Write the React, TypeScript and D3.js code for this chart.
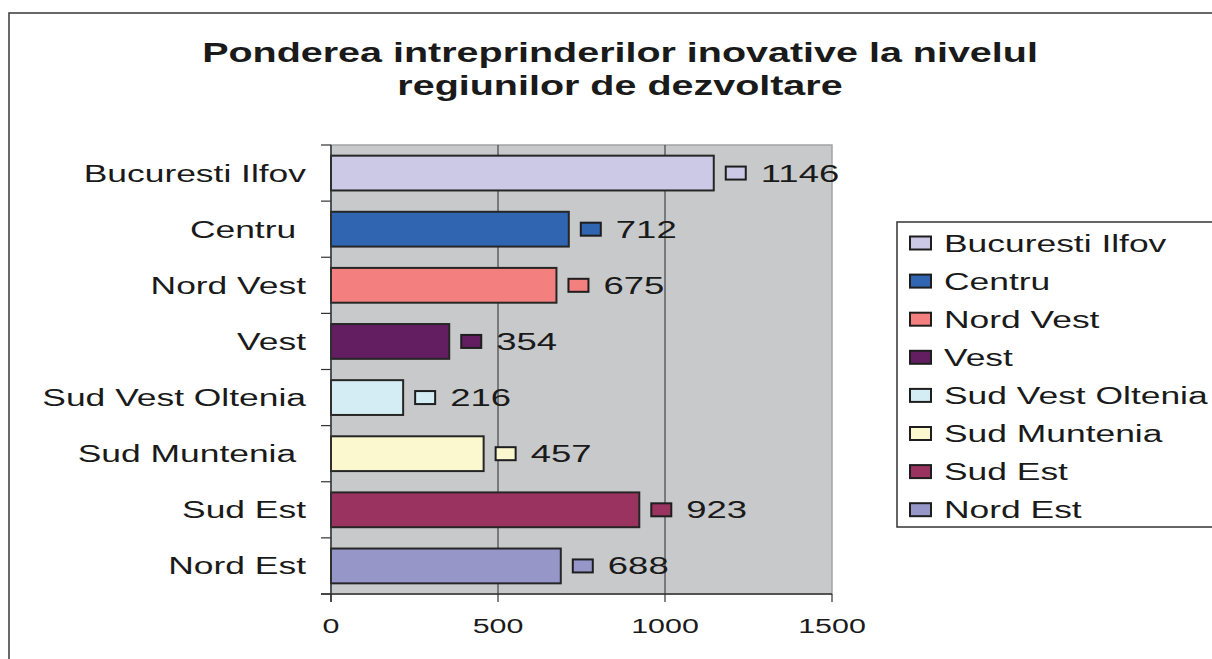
import React from 'react';
import * as d3 from 'd3';

const regions = ['Bucuresti Ilfov', 'Centru', 'Nord Vest', 'Vest', 'Sud Vest Oltenia', 'Sud Muntenia', 'Sud Est', 'Nord Est'];
// labels on the axis carry the trailing blanks of the original sheet
const axisLabels = ['Bucuresti Ilfov', 'Centru ', 'Nord Vest', 'Vest', 'Sud Vest Oltenia', 'Sud Muntenia ', 'Sud Est', 'Nord Est'];
const values = [1146, 712, 675, 354, 216, 457, 923, 688];
const colors = ['#ccc9e6', '#2f65b1', '#f47f7f', '#621e60', '#d4ecf3', '#fbf8cf', '#9a335f', '#9696c9'];
const xTicks = [0, 500, 1000, 1500];
const titleLines = ['Ponderea intreprinderilor inovative la nivelul', 'regiunilor de dezvoltare'];

const W = 1212, H = 659;
const font = '"Liberation Sans", Arial, sans-serif';

// the picture is stretched sideways, so every text gets a horizontal scale
const T = ({x, y, size, sx = 1.445, anchor = 'start', bold = false, children}: any) => (
  <text
    transform={`translate(${x},${y}) scale(${sx},1)`}
    fontFamily={font}
    fontSize={size}
    fontWeight={bold ? 'bold' : 'normal'}
    textAnchor={anchor}
    fill="#1a1a1a"
    style={{whiteSpace: 'pre'}}
  >
    {children}
  </text>
);

export default function App() {
  const x = d3.scaleLinear().domain([0, 1500]).range([331, 832]);
  const y = d3.scaleBand<string>().domain(regions).range([145, 594]).paddingInner(0.38).paddingOuter(0.19);
  const bw = y.bandwidth();
  const step = y.step();
  const top = 145, bottom = 594;

  return (
    <svg width={W} height={H} style={{position: 'absolute', left: 0, top: 0, background: '#fff'}}>
      <rect x={9} y={13} width={W + 20} height={H + 20} fill="#fff" stroke="#444" strokeWidth={1.6} />

      {titleLines.map((t, i) => (
        <T key={i} x={620} y={62 + i * 33} size={28} sx={1.41} anchor="middle" bold>{t}</T>
      ))}

      {/* plot area */}
      <rect x={x(0)} y={top} width={x(1500) - x(0)} height={bottom - top} fill="#c8c9cb" stroke="#a3a3a3" strokeWidth={1.5} />
      {xTicks.slice(1, -1).map(t => (
        <line key={t} x1={x(t)} x2={x(t)} y1={top} y2={bottom} stroke="#2a2a2a" strokeWidth={1} />
      ))}

      {/* bars */}
      {regions.map((r, i) => {
        const yy = y(r)!;
        const cy = yy + bw / 2;
        const end = x(values[i]);
        return (
          <g key={r}>
            <rect x={x(0)} y={yy} width={end - x(0)} height={bw} fill={colors[i]} stroke="#262626" strokeWidth={2} />
            <rect x={end + 12} y={cy - 6.5} width={20} height={13} fill={colors[i]} stroke="#1e1e1e" strokeWidth={2} />
            <T x={end + 47} y={cy + 8.5} size={24.5} sx={1.49}>{values[i]}</T>
          </g>
        );
      })}

      {/* axes */}
      <line x1={x(0)} x2={x(0)} y1={top} y2={bottom + 8} stroke="#333" strokeWidth={1.5} />
      <line x1={x(0) - 10} x2={x(1500)} y1={bottom} y2={bottom} stroke="#333" strokeWidth={1.5} />
      {d3.range(regions.length + 1).map(i => (
        <line key={i} x1={x(0) - 10} x2={x(0)} y1={top + i * step} y2={top + i * step} stroke="#333" strokeWidth={1.2} />
      ))}
      {xTicks.map(t => (
        <g key={t}>
          <line x1={x(t)} x2={x(t)} y1={bottom} y2={bottom + 8} stroke="#333" strokeWidth={1.2} />
          <T x={x(t)} y={633} size={20} sx={1.52} anchor="middle">{t}</T>
        </g>
      ))}
      {axisLabels.map((l, i) => (
        <T key={i} x={306} y={y(regions[i])! + bw / 2 + 8.5} size={24.5} anchor="end">{l}</T>
      ))}

      {/* legend */}
      <rect x={897} y={222} width={W} height={305} fill="#fff" stroke="#333" strokeWidth={1.5} />
      {regions.map((r, i) => {
        const cy = 243 + i * 38.1;
        return (
          <g key={r}>
            <rect x={910} y={cy - 6.5} width={21} height={13} fill={colors[i]} stroke="#1e1e1e" strokeWidth={2} />
            <T x={944} y={cy + 8.5} size={24.5}>{r}</T>
          </g>
        );
      })}
    </svg>
  );
}
